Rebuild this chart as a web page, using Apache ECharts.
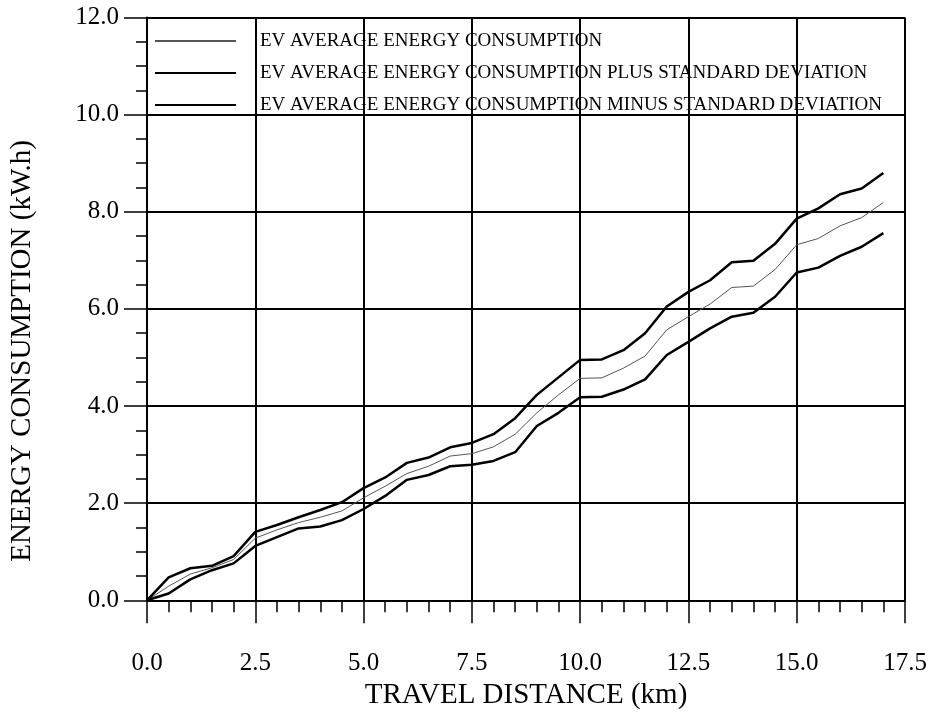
<!DOCTYPE html>
<html>
<head>
<meta charset="utf-8">
<script src="https://cdn.jsdelivr.net/npm/echarts@6/dist/echarts.min.js"></script>
<style>
html,body{margin:0;padding:0;background:#fff;}
#chart{width:934px;height:717px;}
</style>
</head>
<body>
<div id="chart"></div>
<script>
const distance = [0,0.5,1,1.5,2,2.5,3,3.5,4,4.5,5,5.5,6,6.5,7,7.5,8,8.5,9,9.5,10,10.5,11,11.5,12,12.5,13,13.5,14,14.5,15,15.5,16,16.5,17];
const meanConsumption = [0,0.29,0.54,0.67,0.84,1.28,1.45,1.60,1.71,1.84,2.11,2.35,2.61,2.76,2.97,3.02,3.16,3.42,3.86,4.23,4.57,4.58,4.78,5.03,5.57,5.84,6.10,6.44,6.47,6.81,7.32,7.45,7.71,7.88,8.19];
const plusStd = [0,0.47,0.66,0.71,0.91,1.41,1.55,1.71,1.86,2.02,2.31,2.53,2.83,2.94,3.15,3.24,3.42,3.75,4.23,4.59,4.95,4.96,5.15,5.50,6.05,6.35,6.59,6.96,6.99,7.34,7.86,8.07,8.36,8.48,8.80];
const minusStd = [0,0.14,0.43,0.62,0.76,1.12,1.30,1.48,1.52,1.65,1.88,2.15,2.48,2.58,2.76,2.79,2.87,3.05,3.59,3.86,4.18,4.19,4.34,4.55,5.05,5.32,5.60,5.84,5.92,6.25,6.75,6.85,7.09,7.28,7.56];
const seriesNames = [
  'EV AVERAGE ENERGY CONSUMPTION',
  'EV AVERAGE ENERGY CONSUMPTION PLUS STANDARD DEVIATION',
  'EV AVERAGE ENERGY CONSUMPTION MINUS STANDARD DEVIATION'
];
const xAxisName = 'TRAVEL DISTANCE (km)';
const yAxisName = 'ENERGY CONSUMPTION (kW.h)';

const pairs = arr => distance.map((d, i) => [d, arr[i]]);
const FONT = '"Liberation Serif", "Times New Roman", serif';

const chart = echarts.init(document.getElementById('chart'), null, {renderer: 'canvas'});
chart.setOption({
  animation: false,
  backgroundColor: '#ffffff',
  grid: {left: 146, right: 29, top: 17.5, bottom: 116.7, containLabel: false},
  legend: {
    orient: 'vertical',
    left: 149,
    top: 26,
    itemWidth: 81,
    itemHeight: 20,
    itemGap: 12,
    itemStyle: {color: 'transparent', borderColor: 'transparent', borderWidth: 0, opacity: 0},
    textStyle: {fontFamily: FONT, fontSize: 19, color: '#000', lineHeight: 20, padding: [0, 0, 0, 19]},
    data: seriesNames
  },
  xAxis: {
    type: 'value',
    min: 0, max: 17.5, interval: 2.5,
    name: xAxisName,
    nameLocation: 'middle',
    nameGap: 74,
    nameTextStyle: {fontFamily: FONT, fontSize: 29, color: '#000'},
    axisLine: {show: true, onZero: false, lineStyle: {color: '#000', width: 2}},
    axisTick: {show: true, inside: false, length: 23, lineStyle: {color: '#000', width: 1.5}},
    minorTick: {show: true, splitNumber: 5, length: 12, lineStyle: {color: '#000', width: 1.5}},
    axisLabel: {fontFamily: FONT, fontSize: 25, color: '#000', margin: 51, formatter: v => v.toFixed(1)},
    splitLine: {show: true, lineStyle: {color: '#000', width: 2}}
  },
  yAxis: {
    type: 'value',
    min: 0, max: 12, interval: 2,
    name: yAxisName,
    nameLocation: 'middle',
    nameGap: 110,
    nameTextStyle: {fontFamily: FONT, fontSize: 29, color: '#000', padding: [0, 84, 0, 0]},
    axisLine: {show: true, onZero: false, lineStyle: {color: '#000', width: 2}},
    axisTick: {show: true, inside: false, length: 23, lineStyle: {color: '#000', width: 1.5}},
    minorTick: {show: true, splitNumber: 4, length: 11, lineStyle: {color: '#000', width: 1.5}},
    axisLabel: {fontFamily: FONT, fontSize: 25, color: '#000', margin: 28, formatter: v => v.toFixed(1)},
    splitLine: {show: true, lineStyle: {color: '#000', width: 2}}
  },
  series: [
    {name: seriesNames[0], type: 'line', data: pairs(meanConsumption), symbol: 'none', showSymbol: false,
     lineStyle: {color: '#555', width: 1}, itemStyle: {color: '#555'}, z: 3},
    {name: seriesNames[1], type: 'line', data: pairs(plusStd), symbol: 'none', showSymbol: false,
     lineStyle: {color: '#000', width: 2.5}, itemStyle: {color: '#000'}, z: 3},
    {name: seriesNames[2], type: 'line', data: pairs(minusStd), symbol: 'none', showSymbol: false,
     lineStyle: {color: '#000', width: 2.5}, itemStyle: {color: '#000'}, z: 3}
  ]
});
</script>
</body>
</html>
